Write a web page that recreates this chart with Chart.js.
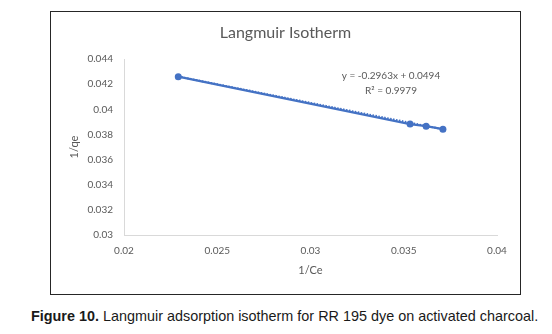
<!DOCTYPE html>
<html>
<head>
<meta charset="utf-8">
<script src="https://cdn.jsdelivr.net/npm/chart.js@4"></script>
<style>
  html, body { margin: 0; padding: 0; background: #fff; width: 552px; height: 334px; overflow: hidden; }
  #box { position: absolute; left: 50px; top: 11px; width: 471px; height: 284px; box-sizing: border-box; border: 1px solid #262626; }
  #box canvas { position: absolute; left: 0; top: 0; }
  #caption { position: absolute; left: 31px; top: 308px; font-family: "Liberation Sans", Arial, sans-serif; font-size: 14.4px; color: #1a1a1a; white-space: nowrap; }
  #caption b { font-weight: bold; }
</style>
</head>
<body>
<div id="box"><canvas id="c" width="469" height="282"></canvas></div>
<div id="caption"><b>Figure 10.</b> Langmuir adsorption isotherm for RR 195 dye on activated charcoal.</div>
<script>
// Data
const invCe = [0.02291, 0.03534, 0.03620, 0.03710];
const invQe = [0.04259, 0.03882, 0.03866, 0.03842];
// Linear trendline end points (y = -0.2963x + 0.0494)
const trendX = [0.02291, 0.03710];
const trendY = [0.04261, 0.03841];
const xTicks = [0.02, 0.025, 0.03, 0.035, 0.04];
const yTicks = [0.03, 0.032, 0.034, 0.036, 0.038, 0.04, 0.042, 0.044];
const chartTitle = "Langmuir Isotherm";
const xTitle = "1/Ce";
const yTitle = "1/qe";
const equationLines = ["y = -0.2963x + 0.0494", "R² = 0.9979"];

const BLUE = "#4472C4";
const TXT = "#595959";
const FONT = "Lato, 'Open Sans', sans-serif";

const pts = invCe.map((x, i) => ({ x, y: invQe[i] }));
const trend = trendX.map((x, i) => ({ x, y: trendY[i] }));

const overlay = {
  id: "overlay",
  afterDraw(chart) {
    const ctx = chart.ctx;
    const ca = chart.chartArea;
    ctx.save();
    ctx.fillStyle = TXT;
    ctx.textAlign = "center";
    ctx.textBaseline = "middle";
    ctx.font = "16px " + FONT;
    ctx.fillText(chartTitle, chart.width / 2, 21);
    ctx.font = "10px " + FONT;
    const ex = ca.left + 267;
    ctx.fillText(equationLines[0], ex, ca.top + 17);
    ctx.fillText(equationLines[1], ex, ca.top + 32);
    ctx.restore();
  }
};

new Chart(document.getElementById("c"), {
  type: "scatter",
  data: {
    datasets: [
      {
        label: "1/qe",
        data: pts,
        showLine: true,
        borderColor: BLUE,
        backgroundColor: BLUE,
        borderWidth: 2.25,
        pointRadius: 3.5,
        pointHoverRadius: 3.5,
        pointBorderWidth: 0
      },
      {
        label: "Linear",
        data: trend,
        showLine: true,
        borderColor: BLUE,
        borderWidth: 2,
        borderDash: [1.5, 1.5],
        pointRadius: 0
      }
    ]
  },
  options: {
    responsive: false,
    animation: false,
    devicePixelRatio: 1,
    layout: { padding: { top: 47, right: 23, bottom: 0, left: 0 } },
    plugins: { legend: { display: false }, tooltip: { enabled: false }, title: { display: false } },
    scales: {
      x: {
        type: "linear",
        min: 0.02, max: 0.04,
        afterBuildTicks: s => { s.ticks = xTicks.map(v => ({ value: v })); },
        afterFit: s => { s.height = 59; },
        grid: { color: "transparent", drawTicks: false },
        border: { display: true, color: "#d9d9d9", width: 1 },
        ticks: { color: TXT, font: { family: FONT, size: 10 }, padding: 10, maxRotation: 0,
                 callback: v => String(Number(v.toFixed(4))) },
        title: { display: true, text: xTitle, color: TXT, font: { family: FONT, size: 11 }, padding: { top: 0, bottom: 17 } }
      },
      y: {
        type: "linear",
        min: 0.03, max: 0.044,
        afterBuildTicks: s => { s.ticks = yTicks.map(v => ({ value: v })); },
        afterFit: s => { s.width = 73; },
        grid: { color: "transparent", drawTicks: false },
        border: { display: true, color: "#d9d9d9", width: 1 },
        ticks: { color: TXT, font: { family: FONT, size: 10 }, padding: 11,
                 callback: v => String(Number(v.toFixed(4))) },
        title: { display: true, text: yTitle, color: TXT, font: { family: FONT, size: 11 }, padding: { top: 17, bottom: 0 } }
      }
    }
  },
  plugins: [overlay]
});
</script>
</body>
</html>
